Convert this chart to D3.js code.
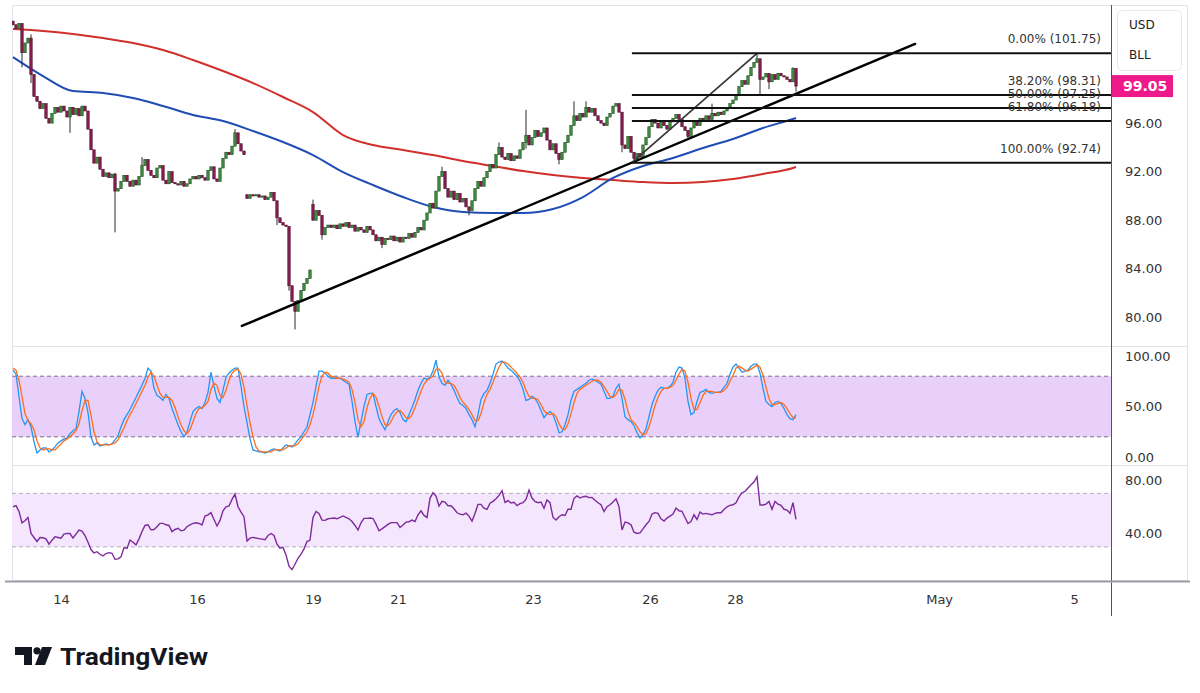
<!DOCTYPE html>
<html><head><meta charset="utf-8">
<script src="https://cdn.jsdelivr.net/npm/d3@7"></script>
<style>
html,body{margin:0;padding:0;background:#fff;}
svg{display:block;}
</style></head><body>
<svg id="chart" width="1200" height="693"></svg>
<script>
// ---------- DATA ----------
const closes = [
104.1,103.8,104.2,101.8,102.6,103.0,100.0,98.2,97.8,97.2,
97.6,96.4,96.0,96.8,97.3,96.9,97.4,97.0,96.5,97.3,
96.7,97.2,96.6,97.4,97.0,95.5,93.8,92.7,93.2,92.2,
91.6,91.9,91.5,91.8,90.4,90.6,91.2,91.7,91.2,90.8,
91.3,90.9,91.6,92.5,93.0,92.1,91.7,91.5,92.3,92.5,
91.3,91.0,92.0,91.1,91.0,90.9,91.2,90.8,91.0,91.4,
91.6,91.4,91.7,91.5,91.3,92.1,92.4,91.4,91.2,92.3,
93.1,93.6,93.4,94.1,95.2,94.3,93.7,93.4,89.8,90.1,
90.0,90.1,89.9,90.0,89.7,89.9,90.3,89.6,88.2,87.8,
87.6,87.5,82.6,81.3,80.5,81.4,82.2,82.8,83.2,83.9,
88.0,88.8,88.4,86.8,87.4,87.6,87.4,87.6,87.3,87.7,
87.5,87.8,87.4,87.6,87.1,87.4,87.2,87.0,87.5,87.2,
86.8,86.3,86.6,86.0,86.5,86.4,86.7,86.3,86.6,86.2,
86.6,86.5,86.9,86.6,87.0,87.4,87.2,88.0,88.6,89.4,
89.0,90.4,91.6,92.0,90.6,89.9,90.4,89.7,90.2,89.5,
89.8,89.1,88.8,89.6,90.6,91.2,90.8,91.5,92.0,92.6,
92.3,93.4,94.0,93.2,93.0,93.5,92.9,93.3,93.1,93.8,
94.4,95.0,94.2,94.8,95.4,94.9,95.2,95.6,94.6,93.8,
94.3,93.5,93.0,93.6,94.4,95.0,95.8,96.6,96.2,96.8,
96.5,97.3,96.9,97.2,96.6,96.2,96.0,95.8,96.5,96.8,
97.4,97.6,96.9,94.2,93.9,94.9,93.6,93.1,93.5,93.2,
94.2,94.8,95.7,96.3,96.0,95.6,96.2,95.8,95.5,96.1,
96.4,96.7,96.3,95.7,95.4,94.9,95.6,96.1,95.8,96.4,
96.2,96.6,96.3,96.8,96.6,96.9,96.7,97.0,97.3,97.6,
97.9,98.3,99.0,99.5,99.2,99.9,100.6,101.0,101.3,99.6,
99.8,100.1,99.4,100.0,99.6,100.1,99.9,99.8,99.6,99.4,
100.5,99.05];
const firstOpen = 104.4;
const gapIdx = [78, 100];
const gapOpen = [90.1, 89.3];
const wickIdx  = [3,6,19,34,43,74,88,92,94,100,103,123,143,152,162,171,182,187,191,203,207,225,233,248,249,252,260,261];
const wickHigh = [104.2,103.3,null,91.9,93.2,95.5,null,null,null,89.7,null,null,92.4,null,94.4,97.1,null,97.8,97.8,null,null,null,97.6,101.75,null,null,100.6,null];
const wickLow  = [100.6,99.3,95.2,87.0,null,null,87.6,82.2,79.0,null,86.4,85.7,null,88.4,null,93.9,92.6,null,null,93.6,92.74,94.7,null,null,98.3,98.8,null,98.6];

const maIdx = [0,10,20,30,40,50,60,70,80,90,100,110,120,130,140,150,160,170,180,190,200,210,220,230,240,250,260,261];
const maRed = [103.75,103.59,103.34,103.01,102.60,102.02,101.20,100.29,99.30,98.15,96.91,95.02,94.19,93.78,93.37,92.87,92.46,92.05,91.72,91.48,91.31,91.15,91.07,91.15,91.40,91.81,92.30,92.38];
const maBlue = [101.44,99.88,98.64,98.48,98.07,97.41,96.67,96.17,95.35,94.44,93.37,91.97,90.90,89.91,89.09,88.68,88.59,88.59,88.92,89.91,91.48,92.47,93.13,93.95,94.69,95.60,96.34,96.42];

const stochK = [
86,82,60,38,32,37,30,15,4,7, 9,9,5,7,10,14,16,18,19,23, 26,28,45,65,58,44,20,12,14,11,
12,13,12,13,17,21,30,37,42,47, 53,59,65,71,78,88,85,68,61,59, 56,62,58,48,40,32,25,20,25,35,
45,48,50,48,54,64,84,70,58,54, 66,79,83,86,88,88,70,50,34,18, 7,6,5,5,4,5,7,8,7,6,
9,12,11,10,13,17,20,25,30,42, 54,70,85,85,83,80,78,78,78,78, 76,74,72,55,35,20,35,50,62,63,
63,50,38,32,27,35,42,46,48,44, 37,35,42,49,57,66,73,78,77,79, 85,96,79,73,71,76,72,66,59,53,
51,48,42,37,30,42,57,63,66,73, 82,92,94,95,92,88,86,83,80,75, 67,56,57,60,58,53,46,39,43,45,
42,34,24,25,32,42,56,65,67,69, 71,73,76,77,76,74,72,65,58,58, 60,68,72,58,40,37,35,31,24,19,
22,28,40,52,60,66,69,68,68,70, 74,84,89,88,78,55,42,44,55,64, 65,67,64,63,64,64,65,69,73,82,
89,92,88,84,85,86,90,92,92,83, 68,55,52,50,54,55,53,48,42,38, 37,42];
const stochD = [
88,86,76,60,43,36,33,27,16,9, 7,8,8,7,7,10,13,16,18,20, 23,26,33,46,56,56,41,25,15,12,
12,12,12,13,14,17,23,29,36,42, 47,53,59,65,71,79,84,80,71,63, 59,59,59,56,49,40,32,26,23,27,
35,43,48,49,51,55,67,73,71,61, 59,66,76,83,86,87,82,69,51,34, 20,10,6,5,5,5,5,7,7,7,
7,9,11,11,11,13,17,21,25,32, 42,55,70,80,84,83,80,79,78,78, 77,76,74,67,54,37,30,35,49,58,
63,59,50,40,32,31,35,41,45,46, 43,39,38,42,49,57,65,72,76,78, 80,87,87,83,74,73,73,71,66,59,
54,51,47,42,36,36,43,54,62,67, 74,82,89,94,94,92,89,86,83,79, 74,66,60,58,58,57,52,46,43,42,
43,40,33,28,27,33,43,54,63,67, 69,71,73,75,76,76,74,70,65,60, 59,62,67,66,57,45,37,34,30,25,
22,23,30,40,51,59,65,68,68,69, 71,76,82,87,85,74,58,47,47,54, 61,65,65,65,64,64,64,66,69,75,
81,88,90,88,86,85,87,89,91,89, 81,69,58,52,52,53,54,52,48,43, 39,39];
const rsi = [
60.0,60.8,56.5,48.0,49.5,52.0,40.0,37.0,34.0,37.0, 36.8,36.0,32.0,35.0,37.5,37.0,36.5,39.5,40.1,40.0,
36.6,39.5,42.5,41.8,38.5,33.5,28.0,25.5,26.4,24.5, 23.2,25.0,25.7,25.2,20.7,21.0,22.5,29.5,28.8,35.1,
33.5,31.5,36.0,41.5,46.0,46.5,42.8,43.0,45.0,47.6, 47.6,46.5,46.0,41.4,43.0,43.9,42.0,42.5,45.1,46.5,
47.6,48.0,47.5,46.4,53.0,53.9,55.6,50.5,45.6,49.8, 57.0,60.0,60.6,65.5,69.5,60.0,56.0,52.6,34.4,36.5,
37.1,36.6,36.2,35.8,35.3,38.5,40.0,38.5,32.0,29.0, 29.6,24.0,15.5,13.0,17.0,21.5,24.5,28.5,34.0,35.1,
52.0,56.5,55.0,50.0,49.8,51.0,51.3,51.6,51.0,52.0, 53.1,52.0,51.0,49.0,46.0,42.6,48.0,51.3,51.3,51.6,
51.2,47.0,42.0,43.5,45.1,46.8,48.1,48.1,48.1,44.5, 46.4,48.5,48.8,50.0,49.0,54.0,57.0,53.5,52.0,66.3,
70.5,68.0,60.5,64.0,63.5,60.7,60.8,58.5,55.5,54.5, 54.0,55.2,53.0,49.3,55.0,61.8,61.8,59.0,58.0,62.6,
64.0,66.0,68.5,72.0,63.3,64.6,62.8,63.3,60.8,62.3, 63.0,65.5,72.5,66.5,64.0,63.0,63.5,58.9,65.0,63.0,
52.0,50.1,52.5,54.0,53.5,58.1,58.1,66.3,68.1,66.5, 67.5,67.8,66.8,67.0,64.8,63.0,61.5,56.4,60.0,61.5,
63.5,66.0,60.0,42.6,48.5,48.0,46.5,41.0,40.0,40.5, 43.5,46.5,49.0,54.5,55.6,55.0,51.0,49.3,51.5,53.0,
54.5,59.0,57.0,56.5,52.0,47.5,49.0,54.0,50.5,56.0, 54.5,55.0,54.5,54.0,55.0,55.5,55.5,58.0,60.0,61.0,
61.5,63.0,67.4,70.5,71.5,74.0,76.5,78.5,82.5,61.3, 61.3,62.0,63.9,58.1,63.9,62.0,61.0,58.1,57.5,55.1,
63.1,50.6];

const tickIdx = [16, 61.3, 100, 128.3, 173.3, 212.3, 240.7, 308.7, 353.7];
const tickLabels = ["14","16","19","21","23","26","28","May","5"];
const priceTicks = [96, 92, 88, 84, 80];
const stochTicks = [100, 50, 0];
const rsiTicks = [80, 40];
const fibPct = [0, 38.2, 50, 61.8, 100];
const fibPrice = [101.75, 98.31, 97.25, 96.18, 92.74];
const fibStartIdx = 206.3, fibEndIdx = 248;
const trendIdx = [76.3, 300.7];
const trendPrice = [79.29, 102.52];
const lastPrice = 99.05;

// ---------- SCALES ----------
const svg = d3.select("#chart");
const FONT = "DejaVu Sans, sans-serif";
const x = d3.scaleLinear().domain([0, 366.33]).range([13, 1112]);
const yMain = d3.scaleLinear().domain([77.72, 105.73]).range([345, 5]);
const yStoch = d3.scaleLinear().domain([-7.9, 109.9]).range([465, 346]);
const yRsi = d3.scaleLinear().domain([4.5, 91.2]).range([581, 465]);

const defs = svg.append("defs");
[["clipMain",5,341],["clipStoch",346,119],["clipRsi",465,116]].forEach(([id,y,h])=>{
  defs.append("clipPath").attr("id",id).append("rect").attr("x",12).attr("y",y).attr("width",1100).attr("height",h);
});

// ---------- FRAME ----------
const frame = svg.append("g").attr("stroke","#e0e3eb").attr("stroke-width",1).attr("fill","none");
frame.append("rect").attr("x",12.5).attr("y",5.5).attr("width",1175).attr("height",575);
frame.append("line").attr("x1",12).attr("x2",1188).attr("y1",346.5).attr("y2",346.5);
frame.append("line").attr("x1",12).attr("x2",1188).attr("y1",465.5).attr("y2",465.5);

// ---------- MAIN PANE ----------
const gMain = svg.append("g").attr("clip-path","url(#clipMain)");
const maLine = d3.line().x((d,k)=>x(maIdx[k])).y(d=>yMain(d)).curve(d3.curveMonotoneX);
gMain.append("path").attr("d",maLine(maRed)).attr("fill","none").attr("stroke","#d0302c").attr("stroke-width",2);
gMain.append("path").attr("d",maLine(maBlue)).attr("fill","none").attr("stroke","#1f4db4").attr("stroke-width",2);

const candles = closes.map((c,i)=>{
  let o = i===0 ? firstOpen : closes[i-1];
  const g = gapIdx.indexOf(i); if (g>=0) o = gapOpen[g];
  let h = Math.max(o,c), l = Math.min(o,c);
  const w = wickIdx.indexOf(i);
  if (w>=0){ if (wickHigh[w]!=null) h=Math.max(h,wickHigh[w]); if (wickLow[w]!=null) l=Math.min(l,wickLow[w]); }
  return {i,o,c,h,l};
});
const cg = gMain.append("g");
cg.selectAll("line.w").data(candles).join("line").attr("class","w")
  .attr("x1",d=>x(d.i)).attr("x2",d=>x(d.i)).attr("y1",d=>yMain(d.h)).attr("y2",d=>yMain(d.l))
  .attr("stroke","#2a2a2a").attr("stroke-width",1);
cg.selectAll("rect.b").data(candles).join("rect").attr("class","b")
  .attr("x",d=>x(d.i)-1.2).attr("width",2.4)
  .attr("y",d=>yMain(Math.max(d.o,d.c)))
  .attr("height",d=>Math.max(1,Math.abs(yMain(d.o)-yMain(d.c))))
  .attr("fill",d=>d.c>=d.o?"#3f9140":"#8c1c52")
  .attr("stroke",d=>d.c>=d.o?"#1d4a1d":"#4a0c28").attr("stroke-width",0.6);

// trend line
gMain.append("line").attr("x1",x(trendIdx[0])).attr("y1",yMain(trendPrice[0]))
  .attr("x2",x(trendIdx[1])).attr("y2",yMain(trendPrice[1]))
  .attr("stroke","#000").attr("stroke-width",2.5).attr("stroke-linecap","round");
// fib
gMain.append("line").attr("x1",x(fibStartIdx)).attr("y1",yMain(fibPrice[4]))
  .attr("x2",x(fibEndIdx)).attr("y2",yMain(fibPrice[0]))
  .attr("stroke","#3a3a3a").attr("stroke-width",1.8);
gMain.selectAll("line.fib").data(fibPrice).join("line").attr("class","fib")
  .attr("x1",x(fibStartIdx)).attr("x2",1111).attr("y1",d=>yMain(d)).attr("y2",d=>yMain(d))
  .attr("stroke","#111").attr("stroke-width",2);
svg.append("g").selectAll("text").data(fibPrice).join("text")
  .attr("x",1101).attr("y",d=>yMain(d)-10).attr("text-anchor","end")
  .attr("font-family",FONT).attr("font-size",12).attr("fill","#333")
  .text((d,k)=>fibPct[k].toFixed(2)+"% ("+d.toFixed(2)+")");

// ---------- STOCH PANE ----------
const gSt = svg.append("g").attr("clip-path","url(#clipStoch)");
gSt.append("rect").attr("x",12).attr("width",1100).attr("y",yStoch(80)).attr("height",yStoch(20)-yStoch(80)).attr("fill","#e9d0fb");
[80,20].forEach(v=>gSt.append("line").attr("x1",12).attr("x2",1112).attr("y1",yStoch(v)).attr("y2",yStoch(v))
  .attr("stroke","#7a6f88").attr("stroke-width",1).attr("stroke-dasharray","4,3"));
const stLine = d3.line().x((d,i)=>x(i)).y(d=>yStoch(d));
gSt.append("path").attr("d",stLine(stochK)).attr("fill","none").attr("stroke","#2196f3").attr("stroke-width",1.3);
gSt.append("path").attr("d",stLine(stochD)).attr("fill","none").attr("stroke","#ff6d1a").attr("stroke-width",1.3);

// ---------- RSI PANE ----------
const gR = svg.append("g").attr("clip-path","url(#clipRsi)");
gR.append("rect").attr("x",12).attr("width",1100).attr("y",yRsi(70)).attr("height",yRsi(30)-yRsi(70)).attr("fill","#f4e6fd");
[70,30].forEach(v=>gR.append("line").attr("x1",12).attr("x2",1112).attr("y1",yRsi(v)).attr("y2",yRsi(v))
  .attr("stroke","#b8aec4").attr("stroke-width",1).attr("stroke-dasharray","4,3"));
const rLine = d3.line().x((d,i)=>x(i)).y(d=>yRsi(d));
gR.append("path").attr("d",rLine(rsi)).attr("fill","none").attr("stroke","#7e2a9c").attr("stroke-width",1.4);

// ---------- AXES ----------
function styleAxis(g){
  g.select(".domain").remove();
  g.attr("font-family",FONT).attr("font-size",13);
  g.selectAll("text").attr("fill","#333");
}
svg.append("g").attr("transform","translate(1112,0)")
  .call(d3.axisRight(yMain).tickValues(priceTicks).tickSize(0).tickPadding(13).tickFormat(d3.format(".2f"))).call(styleAxis);
svg.append("g").attr("transform","translate(1112,0)")
  .call(d3.axisRight(yStoch).tickValues(stochTicks).tickSize(0).tickPadding(13).tickFormat(d3.format(".2f"))).call(styleAxis);
svg.append("g").attr("transform","translate(1112,0)")
  .call(d3.axisRight(yRsi).tickValues(rsiTicks).tickSize(0).tickPadding(13).tickFormat(d3.format(".2f"))).call(styleAxis);
svg.append("g").attr("transform","translate(0,581)")
  .call(d3.axisBottom(x).tickValues(tickIdx).tickSize(0).tickPadding(14).tickFormat((d,i)=>tickLabels[i])).call(styleAxis);

// axis lines
svg.append("line").attr("x1",1111.5).attr("x2",1111.5).attr("y1",5).attr("y2",616).attr("stroke","#50535e").attr("stroke-width",1);
svg.append("line").attr("x1",5).attr("x2",1190).attr("y1",581.5).attr("y2",581.5).attr("stroke","#9a9da6").attr("stroke-width",2);

// currency box
svg.append("rect").attr("x",1117.5).attr("y",10.5).attr("width",64).attr("height",60).attr("rx",5)
  .attr("fill","#fff").attr("stroke","#e6e8ee");
svg.append("text").attr("x",1129).attr("y",29).attr("font-family",FONT).attr("font-size",12).attr("fill","#222").text("USD");
svg.append("text").attr("x",1129).attr("y",59).attr("font-family",FONT).attr("font-size",12).attr("fill","#222").text("BLL");

// last price tag
svg.append("rect").attr("x",1112).attr("y",yMain(lastPrice)-11).attr("width",61).attr("height",22).attr("fill","#ee1a8a");
svg.append("text").attr("x",1123).attr("y",yMain(lastPrice)+5).attr("font-family",FONT).attr("font-size",14)
  .attr("font-weight","bold").attr("fill","#fff").text(lastPrice.toFixed(2));

// ---------- LOGO ----------
const logo = svg.append("g").attr("fill","#131722");
logo.append("path").attr("d","M15,647 L32,647 L32,665 L24,665 L24,655 L15,655 Z");
logo.append("circle").attr("cx",37).attr("cy",650.8).attr("r",3.6);
logo.append("path").attr("d","M42,647 L52,647 L45,665 L35,665 Z");
logo.append("text").attr("x",60).attr("y",665).attr("font-family","Roboto, Inter, sans-serif").attr("font-weight",700)
  .attr("font-size",24).attr("textLength",148).attr("lengthAdjust","spacingAndGlyphs").text("TradingView");
</script>
</body></html>
